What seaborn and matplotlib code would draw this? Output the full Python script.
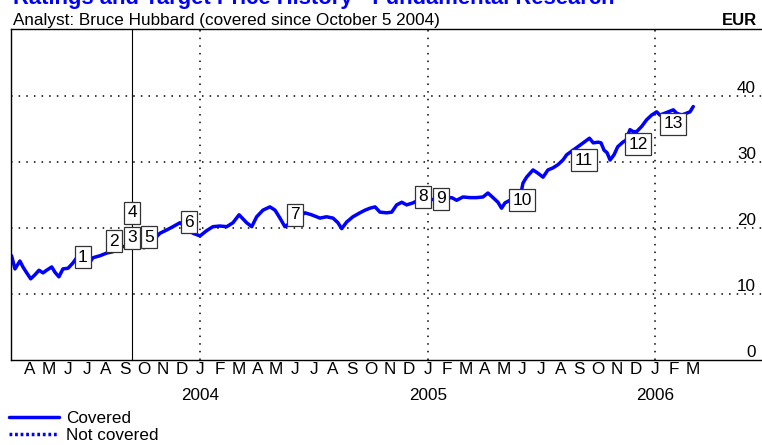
import matplotlib
matplotlib.use('Agg')
import matplotlib.pyplot as plt
import matplotlib.transforms as mtransforms
from matplotlib.lines import Line2D
import seaborn as sns

# Month position: 0 = April 2003, 9 = January 2004, 21 = January 2005, 33 = January 2006.
months = [
    -0.97, -0.79, -0.53, -0.37, -0.17, 0.04, 0.26, 0.48, 0.69, 0.88,
    1.15, 1.32, 1.53, 1.74, 2.01, 2.27, 2.47, 2.99, 3.33, 3.70,
    4.05, 4.38, 4.58, 5.81, 6.02, 6.43, 6.86, 7.22, 7.55, 7.92,
    8.61, 8.98, 9.33, 9.66, 10.03, 10.39, 10.72, 11.04, 11.44, 11.71,
    11.97, 12.30, 12.67, 12.94, 13.20, 13.46, 14.52, 14.87, 15.31, 15.66,
    16.00, 16.26, 16.46, 16.72, 17.05, 17.42, 17.69, 17.95, 18.22, 18.48,
    18.83, 19.10, 19.36, 19.63, 19.89, 20.22, 20.42, 22.27, 22.53, 22.86,
    23.23, 23.58, 23.92, 24.18, 24.45, 24.71, 24.90, 25.08, 25.34, 25.96,
    26.03, 26.22, 26.56, 26.82, 27.09, 27.35, 27.61, 27.88, 28.14, 28.34,
    29.21, 29.54, 29.74, 30.00, 30.15, 30.31, 30.47, 30.63, 30.84, 31.03,
    31.30, 31.47, 31.68, 31.85, 32.03, 32.30, 32.56, 32.82, 33.09, 33.26,
    33.97, 34.14, 34.41, 34.67, 34.85, 35.02,
]
price = [
    15.8, 13.8, 15.0, 14.1, 13.2, 12.3, 12.9, 13.6, 13.2, 13.6,
    14.1, 13.3, 12.6, 13.8, 13.9, 14.7, 15.5, 14.1, 15.5, 15.8,
    16.2, 16.4, 17.1, 17.4, 17.0, 17.9, 19.2, 19.7, 20.2, 20.8,
    19.2, 18.8, 19.6, 20.2, 20.3, 20.2, 20.8, 22.0, 20.8, 20.2,
    21.7, 22.7, 23.2, 22.7, 21.5, 20.2, 22.3, 22.0, 21.5, 21.7,
    21.5, 20.8, 19.9, 20.9, 21.7, 22.3, 22.7, 23.0, 23.2, 22.4,
    22.3, 22.4, 23.5, 23.9, 23.5, 23.8, 24.1, 24.6, 24.2, 24.7,
    24.6, 24.6, 24.7, 25.3, 24.6, 23.9, 23.0, 23.8, 24.2, 25.8,
    26.8, 27.7, 28.8, 28.3, 27.7, 28.8, 29.1, 29.6, 30.3, 31.1,
    32.9, 33.6, 32.9, 33.0, 32.9, 31.8, 31.4, 30.3, 31.1, 32.3,
    33.0, 33.3, 34.9, 34.6, 34.6, 35.4, 36.4, 37.1, 37.6, 37.1,
    37.9, 37.4, 37.1, 37.4, 37.6, 38.4,
]

# Rating / target price change markers
event_ids = ['1', '2', '3', '4', '5', '6', '7', '8', '9', '10', '11', '12', '13']
event_months = [2.80, 4.44, 5.39, 5.39, 6.28, 8.39, 14.0, 20.75, 21.7, 25.98, 29.25, 32.1, 33.95]
event_prices = [15.6, 18.0, 18.5, 22.3, 18.6, 20.9, 22.0, 24.7, 24.4, 24.2, 30.3, 32.7, 35.8]

month_letters = list('AMJJASOND' + 'JFMAMJJASOND' * 2 + 'JFM')
year_months = [9, 21, 33]
year_labels = ['2004', '2005', '2006']
price_levels = [0, 10, 20, 30, 40]
grid_levels = [10, 20, 30, 40]
coverage_start = 5.39

sns.set_style('white')
plt.rcParams['font.family'] = ['Liberation Sans', 'DejaVu Sans']
plt.rcParams['text.color'] = 'black'
plt.rcParams['xtick.color'] = 'black'
plt.rcParams['xtick.labelcolor'] = 'black'

W, H = 762, 445
fig = plt.figure(figsize=(W / 100, H / 100), dpi=100)
ax = fig.add_axes([11 / W, 85 / H, 1 - 11 / W, 331 / H])

# Grid lines and coverage start line
dotted = (0, (1, 4))
for lvl in grid_levels:
    ax.axhline(lvl, color='black', lw=1.1, ls=dotted, zorder=1)
for m in year_months:
    ax.axvline(m, color='black', lw=1.1, ls=dotted, zorder=1)
ax.axvline(coverage_start, color='black', lw=0.8, zorder=1)

# Price line
sns.lineplot(x=months, y=price, color='#0000ff', linewidth=2.5, ax=ax, zorder=2)

# Boxed event numbers
for label, m, p in zip(event_ids, event_months, event_prices):
    ax.text(m, p, label, ha='center', va='center', fontsize=12.5, zorder=3, color='black',
            bbox=dict(boxstyle='square,pad=0.2', fc='white', ec='#333333', lw=0.9))

ax.set_xlim(-1.0, 38.65)
ax.set_ylim(0, 50.15)

# Axes frame
for side in ['left', 'top', 'bottom']:
    ax.spines[side].set_color('black')
    ax.spines[side].set_linewidth(1.0)
ax.spines['right'].set_visible(False)

# Month ticks
ax.set_xticks(range(len(month_letters)))
ax.set_xticklabels(month_letters)
ax.tick_params(axis='x', direction='in', length=3.6, width=0.8, pad=1.5, labelsize=12.3,
               colors='black')
ax.set_yticks([])

# Year labels under January
xform = mtransforms.blended_transform_factory(ax.transData, ax.transAxes)
for m, yr in zip(year_months, year_labels):
    ax.text(m, -40 / 331, yr, transform=xform, ha='center', va='baseline', fontsize=12.3,
            color='black')

# Price labels inside the right side
yform = mtransforms.offset_copy(
    mtransforms.blended_transform_factory(ax.transAxes, ax.transData),
    fig=fig, x=-6, y=3, units='dots')
for lvl in price_levels:
    ax.text(1.0, lvl, str(lvl), transform=yform, ha='right', va='baseline', fontsize=12.3,
            color='black')

# Header texts
fig.text(13 / W, 1 - 4 / H, 'Ratings and Target Price History - Fundamental Research',
         color='#0000ff', fontsize=15.8, fontweight='bold', va='baseline')
fig.text(13 / W, 1 - 25 / H, 'Analyst: Bruce Hubbard (covered since October 5 2004)',
         fontsize=12.3, va='baseline', color='black')
fig.text(757 / W, 1 - 25 / H, 'EUR', fontsize=12, fontweight='bold', ha='right',
         va='baseline', color='black')

# Legend
handles = [Line2D([], [], color='#0000ff', lw=2.5),
           Line2D([], [], color='#0000ff', lw=2.5, ls=(0, (0.8, 0.8)))]
fig.legend(handles, ['Covered', 'Not covered'], loc='upper left',
           bbox_to_anchor=(9 / W, 1 - 411 / H), frameon=False, fontsize=12.3,
           handlelength=2.9, handletextpad=0.45, labelspacing=0.1,
           borderpad=0, borderaxespad=0, labelcolor='black')

fig.savefig('out.png', dpi=100)
